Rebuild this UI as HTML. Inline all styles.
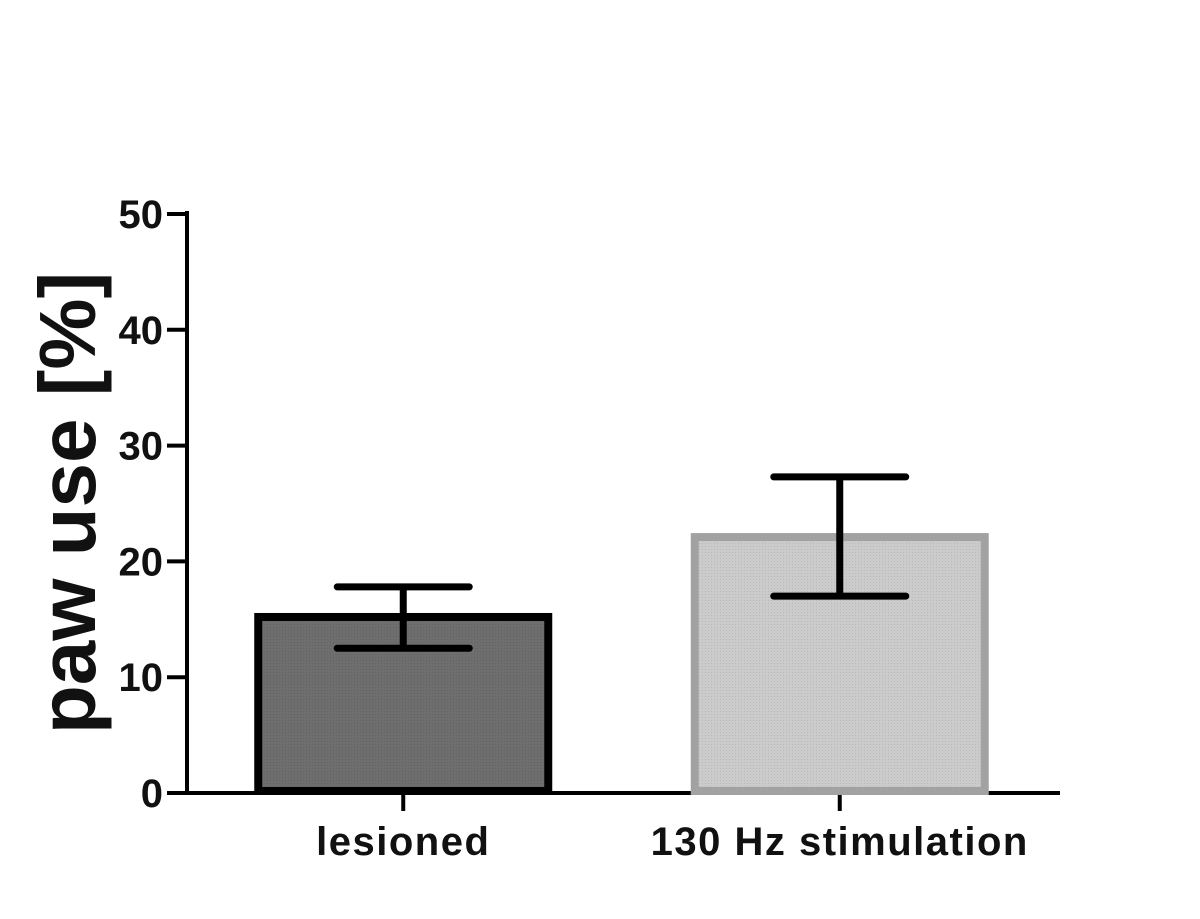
<!DOCTYPE html>
<html><head><meta charset="utf-8"><style>
body{margin:0;background:#fff;}
svg{display:block;font-family:"Liberation Sans",Arial,sans-serif;}
</style></head><body>
<svg id="chart" width="1200" height="919" viewBox="0 0 1200 919">
<defs>
<pattern id="dots1" width="3" height="3" patternUnits="userSpaceOnUse"><rect width="3" height="3" fill="#6e6e6e"/><rect width="1" height="1" fill="#626262"/></pattern>
<pattern id="dots2" width="3" height="3" patternUnits="userSpaceOnUse"><rect width="3" height="3" fill="#cbcbcb"/><rect width="1" height="1" fill="#b8b8b8"/></pattern>
</defs>
<g id="axes"></g>
<g id="bars"></g>
<text transform="translate(95,503) rotate(-90)" text-anchor="middle" font-size="80" font-weight="bold" fill="#111">paw use [%]</text>
</svg>
<script>
const categories = ["lesioned", "130 Hz stimulation"];
const means = [15.2, 22.1];
const errLow = [12.5, 17.0];
const errHigh = [17.8, 27.3];
const yTicks = [0, 10, 20, 30, 40, 50];
const fills = ["url(#dots1)", "url(#dots2)"];
const strokes = ["#000", "#a2a2a2"];

const NS = "http://www.w3.org/2000/svg";
const x0 = 187, x1 = 1060, yBase = 793, yTop = 214, yMax = 50;
const y = v => yBase - (v / yMax) * (yBase - yTop);
const bandW = (x1 - x0) / categories.length;
const xc = i => x0 + bandW * (i + 0.5) - 2;
function mk(tag, attrs, parent){const e=document.createElementNS(NS,tag);for(const k in attrs)e.setAttribute(k,attrs[k]);parent.appendChild(e);return e;}
const axes = document.getElementById('axes');
const bars = document.getElementById('bars');

let e = mk('line',{x1:x0,y1:yTop-3,x2:x0,y2:yBase+2,stroke:'#000','stroke-width':4},axes);


e = mk('line',{x1:x0-2,y1:yBase,x2:x1,y2:yBase,stroke:'#000','stroke-width':4},axes);


yTicks.forEach(t=>{
  const tk = mk('line',{x1:x0-20,y1:y(t),x2:x0,y2:y(t),stroke:'#000','stroke-width':4},axes);
  
  
  const lb = mk('text',{x:x0-24,y:y(t)+14,'text-anchor':'end','font-size':40,'font-weight':'bold',fill:'#111'},axes);
  lb.textContent = t;
  
  
});
categories.forEach((c,i)=>{
  const cx = xc(i), w = 290;
  const r = mk('rect',{x:cx-w/2,y:y(means[i]),width:w,height:yBase-y(means[i])-2,fill:fills[i],stroke:strokes[i],'stroke-width':8},bars);
  
  
  const ev = mk('line',{x1:cx,y1:y(errHigh[i]),x2:cx,y2:y(errLow[i]),stroke:'#000','stroke-width':7},bars);
  
  
  [errHigh[i],errLow[i]].forEach((v,j)=>{
    const cap = mk('line',{x1:cx-66,y1:y(v),x2:cx+66,y2:y(v),stroke:'#000','stroke-width':7,'stroke-linecap':'round'},bars);
    
    
  });
  const xt = mk('line',{x1:cx,y1:yBase,x2:cx,y2:yBase+18,stroke:'#000','stroke-width':4},axes);
  
  
  const xl = mk('text',{x:cx,y:855,'text-anchor':'middle','font-size':40,'font-weight':'bold','letter-spacing':1.5,fill:'#111'},axes);
  xl.textContent = c;
  
  
});
</script>
</body></html>
